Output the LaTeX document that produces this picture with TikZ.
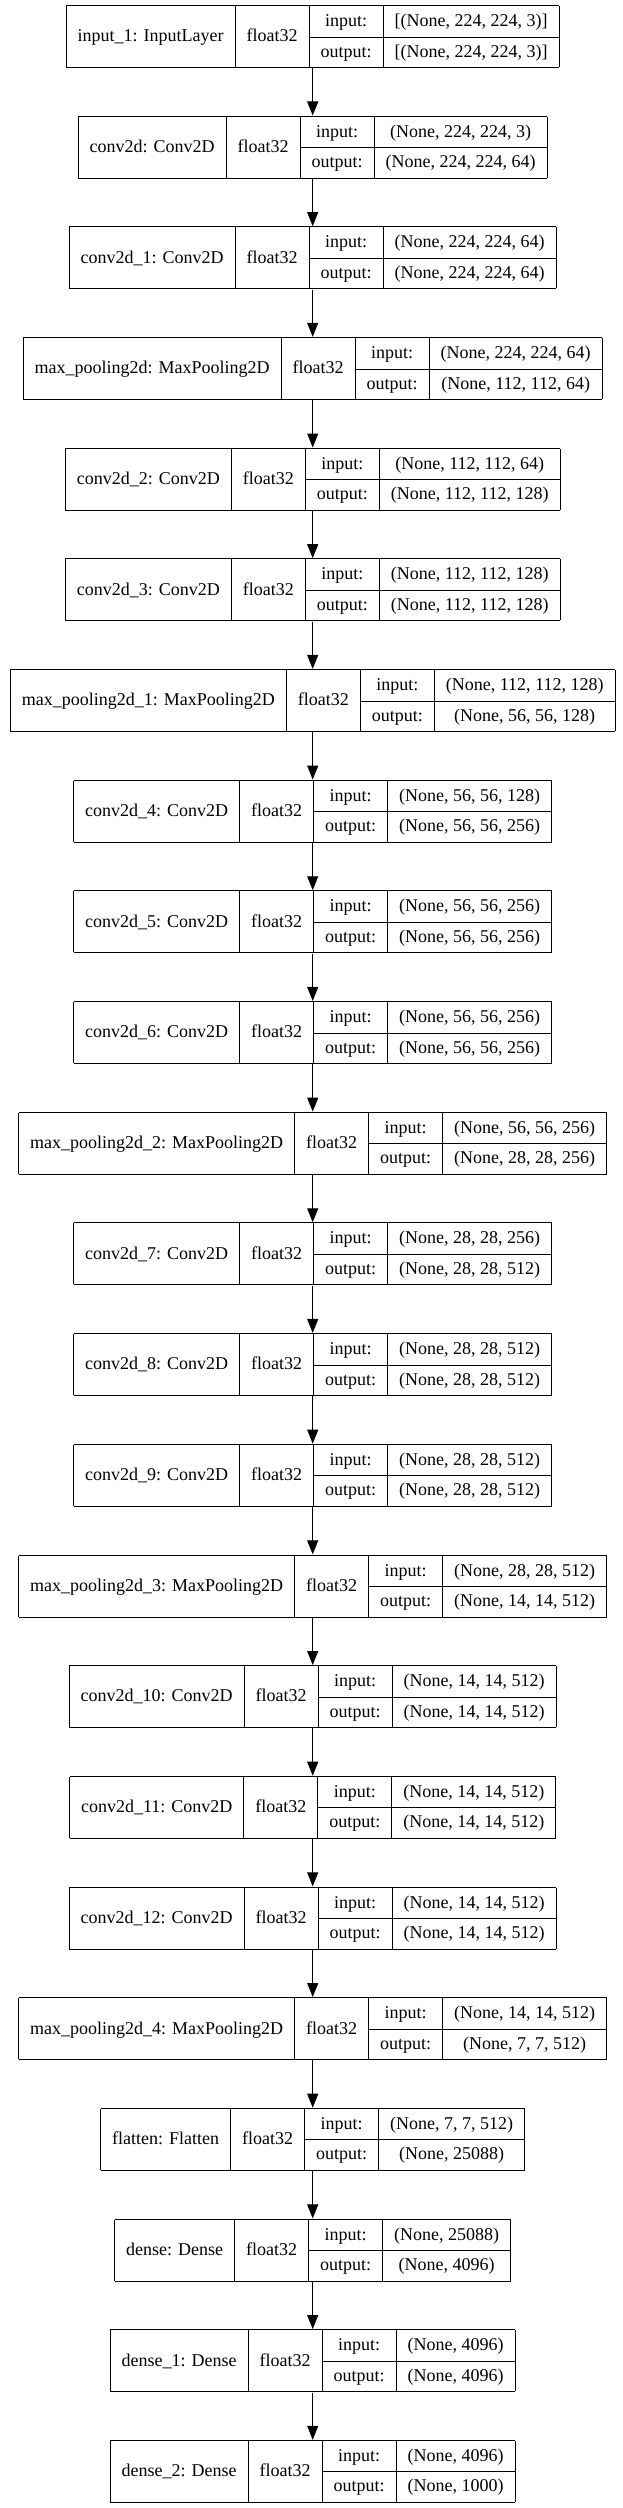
\documentclass[tikz,border=0pt]{standalone}
\usepackage{fontspec}
\setmainfont{Liberation Serif}
\usepackage{tikz}
\usetikzlibrary{arrows.meta}

\setlength{\arrayrulewidth}{1pt}
\setlength{\tabcolsep}{11.5pt}
\newcommand{\rowstrut}{\rule[-10pt]{0pt}{30.5pt}}
\newcommand{\layerbox}[3]{%
  \begin{tabular}{|c|c|c|c|}\hline
    \raisebox{-15.25pt}[0pt][0pt]{#1} & \raisebox{-15.25pt}[0pt][0pt]{float32} & \rowstrut input: & #2 \\ \cline{3-4}
    & & \rowstrut output: & #3 \\ \hline
  \end{tabular}}

\begin{document}
\begin{tikzpicture}[x=1pt,y=1pt,
    layer/.style={inner sep=0pt, font=\fontsize{18}{21.6}\selectfont},
    flow/.style={-{Triangle[length=14pt,width=11pt]}, line width=1pt}]
	
	\useasboundingbox (0,0) rectangle (623,-2508);
	
	\node[layer] (input1)  at (312.7, -36.5)    {\layerbox{input\_1: InputLayer}{[(None, 224, 224, 3)]}{[(None, 224, 224, 3)]}};
	\node[layer] (conv2d)  at (312.7, -147.18)  {\layerbox{conv2d: Conv2D}{(None, 224, 224, 3)}{(None, 224, 224, 64)}};
	\node[layer] (conv2d1) at (312.7, -257.86)  {\layerbox{conv2d\_1: Conv2D}{(None, 224, 224, 64)}{(None, 224, 224, 64)}};
	\node[layer] (pool)    at (312.7, -368.54)  {\layerbox{max\_pooling2d: MaxPooling2D}{(None, 224, 224, 64)}{(None, 112, 112, 64)}};
	\node[layer] (conv2d2) at (312.7, -479.22)  {\layerbox{conv2d\_2: Conv2D}{(None, 112, 112, 64)}{(None, 112, 112, 128)}};
	\node[layer] (conv2d3) at (312.7, -589.9)   {\layerbox{conv2d\_3: Conv2D}{(None, 112, 112, 128)}{(None, 112, 112, 128)}};
	\node[layer] (pool1)   at (312.7, -700.58)  {\layerbox{max\_pooling2d\_1: MaxPooling2D}{(None, 112, 112, 128)}{(None, 56, 56, 128)}};
	\node[layer] (conv2d4) at (312.7, -811.26)  {\layerbox{conv2d\_4: Conv2D}{(None, 56, 56, 128)}{(None, 56, 56, 256)}};
	\node[layer] (conv2d5) at (312.7, -921.94)  {\layerbox{conv2d\_5: Conv2D}{(None, 56, 56, 256)}{(None, 56, 56, 256)}};
	\node[layer] (conv2d6) at (312.7, -1032.62) {\layerbox{conv2d\_6: Conv2D}{(None, 56, 56, 256)}{(None, 56, 56, 256)}};
	\node[layer] (pool2)   at (312.7, -1143.3)  {\layerbox{max\_pooling2d\_2: MaxPooling2D}{(None, 56, 56, 256)}{(None, 28, 28, 256)}};
	\node[layer] (conv2d7) at (312.7, -1253.98) {\layerbox{conv2d\_7: Conv2D}{(None, 28, 28, 256)}{(None, 28, 28, 512)}};
	\node[layer] (conv2d8) at (312.7, -1364.66) {\layerbox{conv2d\_8: Conv2D}{(None, 28, 28, 512)}{(None, 28, 28, 512)}};
	\node[layer] (conv2d9) at (312.7, -1475.34) {\layerbox{conv2d\_9: Conv2D}{(None, 28, 28, 512)}{(None, 28, 28, 512)}};
	\node[layer] (pool3)   at (312.7, -1586.02) {\layerbox{max\_pooling2d\_3: MaxPooling2D}{(None, 28, 28, 512)}{(None, 14, 14, 512)}};
	\node[layer] (conv2d10) at (312.7, -1696.7) {\layerbox{conv2d\_10: Conv2D}{(None, 14, 14, 512)}{(None, 14, 14, 512)}};
	\node[layer] (conv2d11) at (312.7, -1807.38) {\layerbox{conv2d\_11: Conv2D}{(None, 14, 14, 512)}{(None, 14, 14, 512)}};
	\node[layer] (conv2d12) at (312.7, -1918.06) {\layerbox{conv2d\_12: Conv2D}{(None, 14, 14, 512)}{(None, 14, 14, 512)}};
	\node[layer] (pool4)   at (312.7, -2028.74) {\layerbox{max\_pooling2d\_4: MaxPooling2D}{(None, 14, 14, 512)}{(None, 7, 7, 512)}};
	\node[layer] (flatten) at (312.7, -2139.42) {\layerbox{flatten: Flatten}{(None, 7, 7, 512)}{(None, 25088)}};
	\node[layer] (dense)   at (312.7, -2250.1)  {\layerbox{dense: Dense}{(None, 25088)}{(None, 4096)}};
	\node[layer] (dense1)  at (312.7, -2360.78) {\layerbox{dense\_1: Dense}{(None, 4096)}{(None, 4096)}};
	\node[layer] (dense2)  at (312.7, -2471.46) {\layerbox{dense\_2: Dense}{(None, 4096)}{(None, 1000)}};
	
	\path[flow] (input1) edge (conv2d);
	\path[flow] (conv2d) edge (conv2d1);
	\path[flow] (conv2d1) edge (pool);
	\path[flow] (pool) edge (conv2d2);
	\path[flow] (conv2d2) edge (conv2d3);
	\path[flow] (conv2d3) edge (pool1);
	\path[flow] (pool1) edge (conv2d4);
	\path[flow] (conv2d4) edge (conv2d5);
	\path[flow] (conv2d5) edge (conv2d6);
	\path[flow] (conv2d6) edge (pool2);
	\path[flow] (pool2) edge (conv2d7);
	\path[flow] (conv2d7) edge (conv2d8);
	\path[flow] (conv2d8) edge (conv2d9);
	\path[flow] (conv2d9) edge (pool3);
	\path[flow] (pool3) edge (conv2d10);
	\path[flow] (conv2d10) edge (conv2d11);
	\path[flow] (conv2d11) edge (conv2d12);
	\path[flow] (conv2d12) edge (pool4);
	\path[flow] (pool4) edge (flatten);
	\path[flow] (flatten) edge (dense);
	\path[flow] (dense) edge (dense1);
	\path[flow] (dense1) edge (dense2);
\end{tikzpicture}
\end{document}
